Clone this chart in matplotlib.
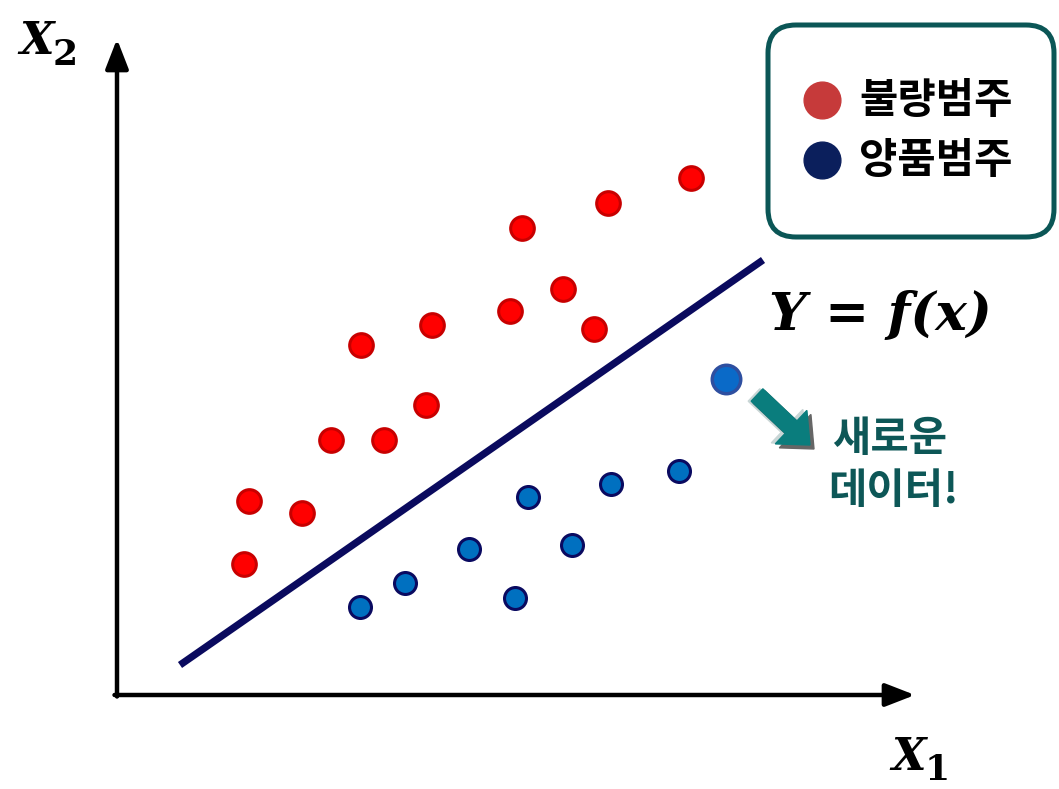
import matplotlib.pyplot as plt
from matplotlib.patches import FancyBboxPatch, FancyArrow

plt.rcParams['font.family'] = ['Noto Sans CJK KR', 'DejaVu Sans']

# defective class (red) and good class (blue) samples
bad_x = [13.4, 18.7, 12.9, 21.6, 26.9, 31.1, 24.6, 31.7, 39.5, 40.7, 44.8, 47.9, 49.3, 57.6]
bad_y = [19.4, 18.2, 13.1, 25.5, 25.5, 29.0, 35.0, 37.0, 38.4, 46.7, 40.6, 36.6, 49.2, 51.7]
good_x = [24.5, 29.0, 35.4, 40.0, 41.3, 45.7, 49.6, 56.4]
good_y = [8.8, 11.2, 14.6, 9.7, 19.8, 15.0, 21.1, 22.4]
new_x, new_y = [61.1], [31.6]

# decision boundary end points
line_x = [6.5, 64.8]
line_y = [3.0, 43.5]

legend_labels = ['불량범주', '양품범주']
new_label = ['새로운', '데이터!']

fig = plt.figure(figsize=(10.59, 7.89), dpi=100)
ax = fig.add_axes([0, 0, 1, 1])
ax.set_xlim(-11.5, 94.4)
ax.set_ylim(-9.4, 69.5)
ax.axis('off')

# axes arrows
arr = dict(arrowstyle='-|>,head_length=0.9,head_width=0.35', lw=3.2, color='black',
           shrinkA=0, shrinkB=0, mutation_scale=20)
ax.annotate('', xy=(0.2, 65.6), xytext=(0.2, -0.15), arrowprops=arr)
ax.annotate('', xy=(80.0, 0.0), xytext=(-0.05, 0.0), arrowprops=arr)

serif = dict(family='DejaVu Serif', weight='bold', style='italic')
ax.text(-9.6, 65.4, 'X', fontsize=32, va='center', ha='left', **serif)
ax.text(-6.2, 64.0, '2', fontsize=26, va='center', ha='left', family='DejaVu Serif', weight='bold')
ax.text(77.6, -6.2, 'X', fontsize=32, va='center', ha='left', **serif)
ax.text(81.0, -7.5, '1', fontsize=26, va='center', ha='left', family='DejaVu Serif', weight='bold')

ax.plot(line_x, line_y, color='#0a0a5e', lw=5.2, solid_capstyle='butt', zorder=2)

ax.scatter(bad_x, bad_y, s=290, c='#ff0000', edgecolors='#c80000', linewidths=2.2, zorder=3)
ax.scatter(good_x, good_y, s=250, c='#0070c0', edgecolors='#0a0a60', linewidths=2.2, zorder=3)
ax.scatter(new_x, new_y, s=420, c='#0a6ac8', edgecolors='#2e4fa0', linewidths=2.5, zorder=3)

ax.text(65.4, 38.0, 'Y = f(x)', fontsize=38, va='center', ha='left', **serif)

# arrow pointing at the new sample
ax.add_patch(FancyArrow(63.9, 30.0, 5.2, -4.9, width=1.7, head_width=4.6, head_length=2.6,
                        length_includes_head=True, color='#c9d6d6', zorder=3))
ax.add_patch(FancyArrow(64.4, 29.8, 5.5, -5.2, width=1.7, head_width=4.6, head_length=2.6,
                        length_includes_head=True, color='#666666', zorder=3))
ax.add_patch(FancyArrow(64.2, 30.0, 5.3, -5.0, width=1.7, head_width=4.6, head_length=2.6,
                        length_includes_head=True, color='#0a7d7d', zorder=4))
ax.text(77.5, 25.6, new_label[0], fontsize=30, color='#0d5757', ha='center', va='center',
        weight='bold')
ax.text(77.8, 20.4, new_label[1], fontsize=30, color='#0d5757', ha='center', va='center',
        weight='bold')

# legend box
ax.add_patch(FancyBboxPatch((65.3, 45.8), 28.6, 21.2, boxstyle='round,pad=0,rounding_size=2.8',
                            fc='white', ec='#0b5656', lw=3.6, zorder=5))
ax.scatter([70.7], [59.5], s=700, c='#c63a3a', zorder=6)
ax.scatter([70.7], [53.5], s=700, c='#0b1f5c', zorder=6)
ax.text(74.4, 59.4, legend_labels[0], fontsize=30, ha='left', va='center', weight='bold', zorder=6)
ax.text(74.4, 53.4, legend_labels[1], fontsize=30, ha='left', va='center', weight='bold', zorder=6)

fig.savefig('out.png', dpi=100)
